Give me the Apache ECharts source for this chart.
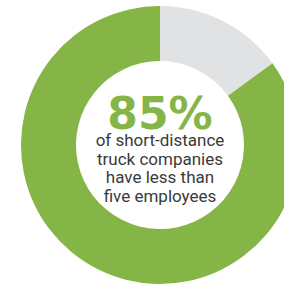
<!DOCTYPE html>
<html>
<head>
<meta charset="utf-8">
<script src="https://cdn.jsdelivr.net/npm/echarts@6/dist/echarts.min.js"></script>
<style>
  html, body { margin: 0; padding: 0; background: #fff; }
  #chart { width: 284px; height: 285px; }
</style>
</head>
<body>
<div id="chart"></div>
<script>
// share of short-distance truck companies
var names = ['5 or more employees', 'less than five employees'];
var values = [15, 85];
var colors = ['#e1e2e4', '#85b546'];
var bigLabel = '85%';
var captionLines = ['of short-distance', 'truck companies', 'have less than', 'five employees'];

var mychart = echarts.init(document.getElementById('chart'), null, { renderer: 'svg' });

var titles = [
  {
    text: bigLabel,
    left: 160,
    top: 98,
    textAlign: 'center',
    padding: 0,
    textStyle: {
      fontFamily: 'DejaVu Sans',
      fontWeight: 'bold',
      fontSize: 44,
      lineHeight: 30,
      color: '#85b546'
    }
  }
];
captionLines.forEach(function (line, i) {
  titles.push({
    text: line,
    left: 160,
    top: 131.5 + i * 18.6,
    textAlign: 'center',
    padding: 0,
    textStyle: {
      fontFamily: 'Roboto',
      fontWeight: 'normal',
      fontSize: 17,
      lineHeight: 17,
      color: '#3a3a3a'
    }
  });
});

var option = {
  animation: false,
  title: titles,
  series: [
    {
      type: 'pie',
      center: [160, 145],
      radius: [84, 139],
      startAngle: 90,
      clockwise: true,
      silent: true,
      label: { show: false },
      labelLine: { show: false },
      data: names.map(function (n, i) {
        return { name: n, value: values[i], itemStyle: { color: colors[i] } };
      })
    }
  ]
};
mychart.setOption(option);
</script>
</body>
</html>
